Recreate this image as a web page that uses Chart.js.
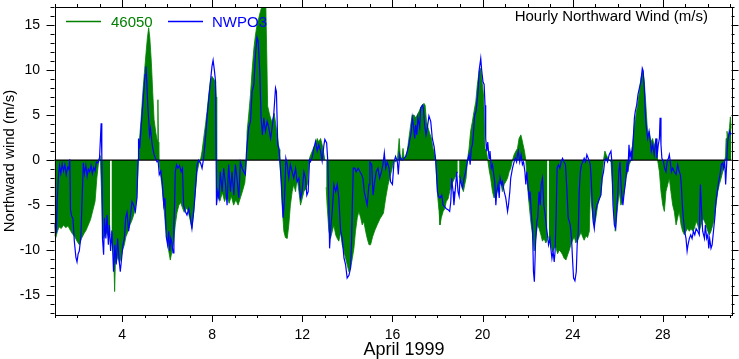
<!DOCTYPE html>
<html>
<head>
<meta charset="utf-8">
<script src="https://cdn.jsdelivr.net/npm/chart.js@4/dist/chart.umd.min.js"></script>
<style>
  html, body { margin: 0; padding: 0; background: #fff; }
  #wrap { position: relative; width: 739px; height: 359px; }
</style>
</head>
<body>
<div id="wrap"><canvas id="windChart"></canvas></div>
<script>
// day of April 1999 (fractional), northward wind m/s
const buoy46050 = [
  [1.0,-8.3],[1.06,-8.6],[1.12,-8.0],[1.2,-7.4],[1.3,-7.6],[1.4,-7.2],[1.5,-7.5],[1.6,-7.3],[1.7,-7.8],[1.8,-8.2],[1.9,-8.5],
  [2.0,-9.0],[2.1,-9.4],[2.2,-8.7],[2.3,-8.2],[2.4,-7.8],[2.5,-7.2],[2.6,-6.6],[2.7,-5.6],[2.8,-4.6],[2.88,-2.0],[2.95,-0.4],
  [3.03,0.5],[3.08,-3.0],[3.13,-7.0],[3.18,-8.7],[3.25,-8.3],[3.33,-8.0],[3.4,-8.6],[3.47,-8.2],[3.5,null],[3.53,-7.8],[3.58,-9.0],
  [3.63,-11.0],[3.67,-14.6],[3.7,-11.5],[3.76,-11.2],[3.82,-10.6],[3.88,-11.4],[3.95,-10.9],
  [4.02,-10.0],[4.1,-9.4],[4.17,-8.5],[4.25,-8.0],[4.35,-7.2],[4.45,-6.6],[4.55,-5.8],[4.65,-4.2],[4.72,0],[4.78,2.5],[4.85,4.8],[4.92,7.5],
  [5.0,10.0],[5.06,11.8],[5.12,13.5],[5.18,14.7],[5.23,13.6],[5.3,10.8],[5.36,7.5],[5.42,4.5],[5.5,3.0],[5.56,2.2],[5.59,6.7],[5.61,2.0],
  [5.63,0],[5.7,-1.5],[5.77,-2.8],[5.85,-5.0],[5.92,-7.2],
  [6.0,-8.8],[6.07,-10.1],[6.14,-11.1],[6.22,-10.0],[6.29,-9.0],[6.36,-7.2],[6.44,-5.8],[6.52,-5.0],[6.6,-4.7],[6.68,-5.3],[6.76,-5.8],[6.84,-5.3],[6.92,-5.6],
  [7.0,-6.4],[7.1,-7.6],[7.18,-5.7],[7.25,-3.5],[7.33,-1.3],[7.42,-0.3],[7.48,0],[7.55,1.0],[7.62,2.4],[7.7,3.9],[7.77,5.4],[7.85,7.3],[7.92,8.7],[7.99,9.3],
  [8.07,9.0],[8.14,8.7],[8.18,7.0],[8.2,-3.5],[8.27,-4.2],[8.35,-4.5],[8.45,-3.6],[8.55,-4.6],[8.65,-3.8],[8.75,-4.8],[8.85,-4.0],[8.95,-5.0],
  [9.05,-4.4],[9.15,-5.0],[9.25,-4.2],[9.35,-3.4],[9.45,-2.5],[9.52,0],[9.55,3.2],[9.62,5.0],[9.7,7.3],[9.77,9.9],[9.85,12.4],[9.92,13.9],[9.99,15.0],
  [10.07,15.8],[10.14,16.5],[10.22,17.2],[10.3,17.5],[10.38,17.2],[10.42,12.0],[10.46,6.0],[10.55,5.0],[10.65,4.2],[10.75,5.2],[10.82,4.0],[10.9,2.5],[10.97,1.2],
  [11.0,0],[11.06,-2.7],[11.12,-5.7],[11.18,-7.9],[11.25,-8.6],[11.33,-8.7],[11.4,-7.2],[11.47,-5.0],[11.55,-3.5],[11.62,-2.7],[11.7,-3.5],[11.77,-2.0],[11.85,-3.5],[11.92,-5.0],
  [12.0,-4.2],[12.07,-3.5],[12.15,-3.2],[12.22,-2.7],[12.29,-0.5],[12.33,0.3],[12.44,1.0],[12.52,1.5],[12.59,1.7],[12.66,2.4],[12.73,2.0],[12.81,2.4],[12.88,1.7],[12.96,0.6],
  [13.0,0],[13.03,null],[13.06,-3.0],[13.1,-5.0],[13.18,-7.9],[13.25,-8.7],[13.33,-7.9],[13.4,-7.2],[13.48,-8.3],[13.55,-8.7],[13.62,-9.0],[13.7,-8.0],[13.77,-9.4],[13.85,-10.1],[13.92,-10.9],[13.99,-11.6],
  [14.07,-12.4],[14.14,-12.0],[14.22,-10.9],[14.29,-9.8],[14.36,-7.9],[14.44,-6.4],[14.51,-5.7],[14.59,-6.4],[14.66,-7.2],[14.73,-6.8],[14.81,-7.9],[14.88,-8.7],[14.96,-9.4],
  [15.03,-9.4],[15.12,-8.5],[15.22,-7.8],[15.32,-7.2],[15.45,-6.5],[15.6,-5.9],[15.7,-4.2],[15.8,-2.8],[15.9,-1.8],
  [16.0,-0.8],[16.07,0],[16.14,-0.2],[16.22,0],[16.3,2.4],[16.35,0.3],[16.42,0.2],[16.47,1.3],[16.52,0.1],[16.6,0.5],[16.66,1.0],[16.73,2.4],[16.81,3.9],[16.88,5.0],[16.96,5.0],
  [17.03,4.7],[17.1,5.0],[17.18,5.4],[17.25,5.8],[17.33,6.1],[17.4,6.3],[17.45,6.1],[17.51,4.3],[17.58,3.6],[17.65,3.0],[17.73,2.4],[17.8,1.3],[17.88,0.6],[17.92,0],
  [18.0,-3.8],[18.07,-5.7],[18.11,-7.2],[18.17,-6.4],[18.25,-5.7],[18.32,-5.4],[18.39,-4.6],[18.47,-4.3],[18.54,-3.5],[18.62,-2.7],[18.69,-2.4],[18.76,-2.0],[18.84,-1.6],[18.9,-1.3],[18.93,null],[18.96,-1.8],
  [19.0,-2.0],[19.08,-2.7],[19.15,-3.5],[19.21,-2.7],[19.27,-2.0],[19.33,0],[19.4,1.3],[19.47,3.2],[19.55,4.3],[19.62,5.4],[19.7,6.5],[19.77,8.4],[19.85,9.9],[19.92,10.2],[19.99,8.5],
  [20.05,7.0],[20.11,1.3],[20.17,1.0],[20.23,0],[20.3,-1.2],[20.36,-2.0],[20.44,-3.5],[20.51,-4.2],[20.59,-3.9],[20.66,-3.5],[20.74,-2.7],[20.81,-2.4],[20.88,-3.5],[20.96,-2.7],
  [21.03,-2.4],[21.11,-2.0],[21.18,-1.3],[21.25,-0.9],[21.33,0],[21.4,0.6],[21.48,1.0],[21.55,1.3],[21.62,2.4],[21.7,2.8],[21.74,2.4],[21.8,1.7],[21.86,1.0],[21.92,0],[21.99,-2.7],
  [22.07,-5.0],[22.14,-6.8],[22.22,-8.3],[22.29,-10.1],[22.36,-8.7],[22.44,-7.2],[22.51,-7.6],[22.59,-8.3],[22.66,-9.0],[22.73,-8.7],[22.81,-9.2],[22.88,-8.8],[22.91,null],[22.94,-8.5],
  [23.03,-9.4],[23.11,-10.2],[23.18,-9.8],[23.25,-9.6],[23.33,-10.4],[23.4,-10.0],[23.48,-10.2],[23.55,-10.5],[23.62,-10.9],[23.7,-11.1],[23.78,-10.5],[23.85,-10.0],[23.92,-9.4],
  [24.0,-8.9],[24.07,-8.5],[24.14,-9.2],[24.22,-8.9],[24.29,-8.5],[24.37,-8.0],[24.44,-8.5],[24.51,-8.9],[24.59,-8.4],[24.66,-8.6],[24.74,-7.9],[24.79,-3.0],[24.84,-5.0],[24.9,-6.4],[24.96,-7.2],
  [25.03,-6.4],[25.11,-5.0],[25.18,-4.3],[25.25,-3.9],[25.33,-1.3],[25.37,0],[25.43,1.0],[25.49,0.6],[25.55,0.3],[25.62,0],[25.7,-0.2],[25.77,-2.7],[25.85,-6.4],[25.89,-7.9],[25.95,-6.4],
  [26.0,-5.0],[26.07,-3.5],[26.14,-5.0],[26.21,-4.6],[26.29,-3.5],[26.36,-2.0],[26.44,-1.3],[26.51,-0.5],[26.59,0],[26.66,1.7],[26.74,3.9],[26.81,5.0],[26.88,6.1],[26.96,7.6],
  [27.03,9.1],[27.11,9.9],[27.18,8.7],[27.25,6.1],[27.3,4.0],[27.35,2.5],[27.4,3.2],[27.47,2.0],[27.55,2.4],[27.62,1.5],[27.7,2.4],[27.77,0],[27.85,-1.3],[27.92,-3.5],
  [28.0,-5.0],[28.07,-5.7],[28.14,-3.5],[28.22,-2.7],[28.29,-2.0],[28.36,-3.5],[28.44,-5.0],[28.51,-5.7],[28.59,-7.2],[28.66,-6.4],[28.73,-5.7],[28.81,-7.2],[28.88,-7.9],[28.96,-8.3],
  [29.03,-7.9],[29.1,-7.6],[29.18,-7.9],[29.25,-7.6],[29.33,-7.9],[29.4,-7.6],[29.48,-6.8],[29.55,-7.2],[29.62,-7.9],[29.7,-7.2],[29.77,-6.4],[29.85,-6.8],[29.92,-7.2],
  [30.0,-7.9],[30.07,-8.3],[30.14,-7.9],[30.22,-7.2],[30.29,-6.4],[30.36,-5.0],[30.44,-3.5],[30.51,-2.7],[30.59,-2.0],[30.66,-1.3],[30.74,-0.2],[30.78,0],[30.81,2.4],[30.85,3.2],[30.9,2.4],[30.96,3.6],
  [31.0,4.8],[31.05,3.5]
];

const nwpo3 = [
  [1.0,-7.0],[1.04,-8.2],[1.08,-8.0],[1.12,-4.5],[1.17,-2.0],[1.22,-0.6],[1.28,-1.5],[1.34,-0.4],[1.4,-1.2],[1.46,-0.5],[1.52,-1.6],[1.58,-0.8],[1.63,-1.0],[1.68,0.1],
  [1.71,-5.5],[1.76,-6.2],[1.82,-6.5],[1.88,-9.0],[1.95,-10.8],[2.0,-11.3],[2.05,-10.4],[2.1,-10.1],[2.17,-8.5],[2.23,-4.0],[2.28,-0.3],[2.33,-1.5],[2.39,-0.6],[2.45,-1.8],
  [2.5,-1.0],[2.56,-1.3],[2.62,-0.6],[2.68,-1.5],[2.74,-0.8],[2.8,-1.2],[2.86,-0.2],[2.93,-0.3],[3.0,0.3],[3.07,4.1],[3.1,0.5],[3.13,-8.7],[3.18,-10.5],[3.22,-6.4],
  [3.28,-8.7],[3.33,-6.1],[3.39,-9.4],[3.44,-7.2],[3.49,-10.1],[3.55,-7.9],[3.62,-12.4],[3.68,-9.4],[3.74,-11.6],[3.8,-8.7],[3.86,-10.9],[3.92,-12.4],[3.98,-10.9],
  [4.04,-9.4],[4.1,-8.7],[4.16,-6.4],[4.22,-5.8],[4.29,-7.9],[4.36,-6.4],[4.44,-4.6],[4.51,-5.0],[4.59,-5.7],[4.66,-4.2],[4.71,0],[4.73,2.4],[4.78,1.3],[4.84,3.5],
  [4.9,5.5],[4.96,7.5],[5.02,9.5],[5.06,10.4],[5.1,8.5],[5.14,6.1],[5.18,4.5],[5.22,2.8],[5.26,3.5],[5.3,2.5],[5.35,1.5],[5.42,0.6],[5.48,0.2],[5.55,-0.2],[5.6,-0.1],
  [5.65,-1.6],[5.72,-1.2],[5.78,-2.5],[5.85,-5.0],[5.9,-4.2],[5.96,-8.5],[6.02,-9.4],[6.07,-7.9],[6.11,-10.1],[6.16,-8.7],[6.21,-9.2],[6.26,-10.3],[6.3,-7.0],[6.33,-5.0],
  [6.36,-1.3],[6.42,-0.5],[6.48,-0.9],[6.55,-0.6],[6.62,-1.3],[6.68,-0.9],[6.73,-5.0],[6.81,-5.7],[6.88,-6.1],[6.96,-5.4],[7.03,-6.4],[7.1,-7.6],[7.18,-5.7],[7.25,-3.5],
  [7.33,-0.5],[7.4,0],[7.48,-0.3],[7.55,-0.9],[7.62,0.2],[7.7,2.4],[7.77,4.7],[7.85,6.9],[7.92,8.7],[7.99,10.4],[8.04,11.1],[8.1,9.9],[8.15,8.7],[8.19,-5.0],[8.25,-3.5],
  [8.3,-4.2],[8.36,-1.3],[8.44,-3.5],[8.51,-0.9],[8.59,-2.7],[8.66,-5.0],[8.73,-0.5],[8.81,-3.5],[8.88,-1.3],[8.96,-3.9],[9.03,-0.5],[9.1,-2.0],[9.18,-4.2],[9.25,-0.2],
  [9.33,-0.9],[9.4,-1.3],[9.47,-1.6],[9.52,0.8],[9.55,1.7],[9.62,3.6],[9.7,4.3],[9.77,7.6],[9.85,8.4],[9.92,11.7],[9.99,13.6],[10.04,13.2],[10.11,9.9],[10.17,4.7],
  [10.23,2.8],[10.29,4.7],[10.36,3.2],[10.44,4.3],[10.51,3.6],[10.59,2.4],[10.66,3.6],[10.73,5.0],[10.81,8.0],[10.85,7.6],[10.91,1.7],[10.96,1.3],[11.0,0],[11.06,-2.0],
  [11.12,-5.0],[11.15,-6.4],[11.21,-4.2],[11.27,0.2],[11.33,-0.5],[11.4,-2.0],[11.47,-0.5],[11.55,-1.3],[11.62,-2.0],[11.7,-0.9],[11.77,-2.4],[11.85,-2.0],[11.92,-4.2],
  [11.99,-3.5],[12.07,-1.3],[12.14,-2.0],[12.2,-3.9],[12.26,-3.5],[12.32,0],[12.36,-0.2],[12.44,0.3],[12.51,1.3],[12.59,2.1],[12.66,1.0],[12.73,1.7],[12.81,1.0],[12.88,-0.1],
  [12.96,1.7],[13.0,2.3],[13.08,1.9],[13.13,-0.1],[13.18,-5.0],[13.21,-9.8],[13.27,-7.2],[13.33,-5.7],[13.4,-2.7],[13.48,-3.5],[13.55,-2.7],[13.62,-4.2],[13.7,-7.9],
  [13.77,-8.7],[13.85,-10.9],[13.92,-11.6],[13.99,-13.1],[14.07,-12.8],[14.14,-12.0],[14.19,-8.7],[14.22,-5.0],[14.26,-0.9],[14.33,-0.9],[14.39,-1.3],[14.48,-0.9],
  [14.56,-1.3],[14.63,-1.6],[14.69,-2.0],[14.75,-3.5],[14.81,-4.2],[14.88,-5.0],[14.96,-2.7],[15.0,-0.2],[15.08,-0.5],[15.14,-3.9],[15.21,-2.4],[15.28,-1.3],[15.36,-0.9],
  [15.43,-2.0],[15.51,-1.3],[15.58,-0.5],[15.64,0.8],[15.7,-0.9],[15.77,-0.2],[15.85,-0.9],[15.92,-2.4],[16.0,-2.7],[16.07,-0.2],[16.14,0.4],[16.22,-0.2],[16.26,-1.6],
  [16.32,0.6],[16.36,0.2],[16.44,0],[16.51,0.2],[16.59,0.4],[16.66,1.0],[16.73,1.7],[16.78,2.4],[16.84,3.2],[16.88,4.7],[16.93,3.9],[16.99,2.4],[17.03,3.9],[17.08,2.8],
  [17.13,4.7],[17.21,3.6],[17.25,5.8],[17.33,6.1],[17.37,5.8],[17.43,3.9],[17.49,2.8],[17.55,3.6],[17.62,4.9],[17.7,4.3],[17.77,2.4],[17.85,1.5],[17.92,0],[18.0,-3.5],
  [18.04,-4.0],[18.11,-4.2],[18.19,-3.9],[18.25,-5.0],[18.32,-5.2],[18.39,-5.4],[18.47,-5.5],[18.54,-5.7],[18.59,-4.6],[18.63,-2.0],[18.69,-3.5],[18.73,-5.0],[18.81,-2.7],
  [18.85,-1.3],[18.91,-3.5],[18.96,-4.0],[19.0,-2.0],[19.06,-2.7],[19.1,-3.1],[19.18,-2.0],[19.25,-1.3],[19.33,-0.1],[19.4,0.6],[19.45,-0.5],[19.5,1.3],[19.55,1.7],
  [19.59,2.8],[19.65,5.0],[19.71,5.4],[19.8,7.6],[19.85,10.0],[19.92,11.3],[19.96,10.0],[20.02,8.7],[20.07,8.4],[20.11,6.1],[20.14,2.4],[20.19,1.0],[20.23,2.0],[20.29,0.2],
  [20.33,1.0],[20.39,-0.9],[20.44,-0.5],[20.48,-1.3],[20.54,-2.4],[20.59,-5.0],[20.63,-3.5],[20.69,-2.7],[20.74,-4.2],[20.78,-2.0],[20.84,-2.7],[20.88,-2.4],[20.96,-3.5],
  [21.03,-4.2],[21.11,-5.7],[21.15,-5.0],[21.21,-3.5],[21.25,-2.0],[21.33,-0.9],[21.4,-0.2],[21.45,0.2],[21.51,-0.2],[21.55,0.6],[21.59,1.0],[21.65,-0.2],[21.71,0.6],
  [21.77,-0.5],[21.82,-0.2],[21.88,-1.3],[21.92,-2.7],[21.96,-1.3],[22.01,-2.7],[22.07,-4.2],[22.11,-3.5],[22.16,-5.7],[22.22,-7.9],[22.26,-12.4],[22.3,-13.5],[22.35,-9.4],
  [22.41,-6.8],[22.45,-6.4],[22.51,-3.5],[22.56,-5.0],[22.6,-2.7],[22.66,-2.0],[22.72,-5.0],[22.78,-6.1],[22.84,-7.6],[22.88,-8.3],[22.93,-9.4],[22.99,-8.7],[23.03,-9.8],
  [23.08,-10.9],[23.13,-10.1],[23.18,-11.3],[23.22,-10.1],[23.27,-5.7],[23.31,-0.9],[23.37,-0.5],[23.43,-0.9],[23.49,-0.2],[23.55,0.2],[23.62,-0.2],[23.68,-0.5],
  [23.74,-3.1],[23.8,-6.4],[23.85,-6.8],[23.89,-7.2],[23.95,-8.7],[24.0,-11.3],[24.04,-13.1],[24.1,-13.4],[24.16,-12.4],[24.2,-9.4],[24.25,-7.9],[24.29,-3.5],[24.34,-1.3],
  [24.39,-0.5],[24.45,-0.2],[24.51,0.2],[24.57,-0.2],[24.63,0.6],[24.69,0.2],[24.75,-0.2],[24.78,-0.5],[24.82,-2.0],[24.87,-5.0],[24.91,-6.8],[24.96,-7.6],[25.02,-5.7],
  [25.08,-5.0],[25.14,-4.6],[25.2,-4.2],[25.25,-3.9],[25.31,-2.0],[25.37,-1.3],[25.42,-0.2],[25.48,0.2],[25.55,-0.2],[25.62,0.6],[25.7,1.0],[25.74,-0.2],[25.79,-5.0],
  [25.85,-7.2],[25.91,-7.6],[25.95,-5.7],[26.0,-3.9],[26.05,-1.3],[26.1,-0.2],[26.14,-2.4],[26.19,-4.2],[26.23,-5.0],[26.29,-3.5],[26.35,-2.4],[26.41,-0.5],[26.45,-1.3],
  [26.5,1.7],[26.54,0.2],[26.59,1.0],[26.63,-0.1],[26.69,2.4],[26.74,4.7],[26.78,5.4],[26.84,6.1],[26.9,7.3],[26.96,8.0],[27.03,8.7],[27.09,10.2],[27.13,9.9],[27.18,8.0],
  [27.22,5.4],[27.27,3.6],[27.33,2.4],[27.39,3.2],[27.45,2.0],[27.49,1.0],[27.55,1.7],[27.62,0.6],[27.7,2.4],[27.74,0.2],[27.8,1.7],[27.85,2.4],[27.88,4.7],[27.92,1.7],
  [27.96,0.2],[28.02,-0.1],[28.08,-0.9],[28.14,-1.3],[28.2,-0.1],[28.25,0.2],[28.29,0.6],[28.33,-0.1],[28.38,-1.3],[28.44,-0.9],[28.51,-1.3],[28.59,-1.6],[28.66,-0.5],
  [28.73,-1.3],[28.78,-1.6],[28.82,-2.7],[28.87,-5.0],[28.91,-6.4],[28.97,-7.9],[29.03,-8.7],[29.08,-10.1],[29.12,-9.4],[29.18,-8.7],[29.24,-8.3],[29.3,-8.7],[29.36,-7.9],
  [29.42,-8.3],[29.48,-7.6],[29.55,-7.9],[29.62,-8.3],[29.67,-2.7],[29.71,-5.0],[29.77,-7.9],[29.85,-8.7],[29.89,-7.2],[29.95,-8.7],[30.0,-8.3],[30.04,-9.8],[30.08,-8.7],
  [30.14,-9.8],[30.19,-9.4],[30.25,-7.9],[30.31,-6.4],[30.36,-4.6],[30.42,-3.5],[30.48,-2.4],[30.54,-1.6],[30.6,-0.5],[30.66,-0.3],[30.7,-0.9],[30.75,-0.2],[30.79,-2.7],
  [30.84,-0.2],[30.88,2.0],[30.93,2.8],[30.97,3.2],[31.02,2.8]
];

const dayTicks = [4, 8, 12, 16, 20, 24, 28];
const windTicks = [-15, -10, -5, 0, 5, 10, 15];
const seriesNames = ['46050', 'NWPO3'];
const seriesColors = ['#008000', '#0000ff'];

const FONT = '"Liberation Sans", Arial, Helvetica, sans-serif';

function toPoints(list) {
  return list.map(function (p) { return { x: p[0], y: p[1] }; });
}

// frame, minor/major ticks on all 4 sides, zero line, legend, title texts
const ncarStyle = {
  id: 'ncarStyle',
  afterDatasetDraw(chart, args) {
    if (args.index !== 1) return;
    const a = chart.chartArea, ctx = chart.ctx;
    const y0 = chart.scales.y.getPixelForValue(0);
    ctx.save();
    ctx.strokeStyle = '#000';
    ctx.lineWidth = 1.3;
    ctx.beginPath();
    ctx.moveTo(a.left, y0);
    ctx.lineTo(a.right, y0);
    ctx.stroke();
    ctx.restore();
  },
  afterDraw(chart) {
    const a = chart.chartArea, ctx = chart.ctx;
    const xs = chart.scales.x, ys = chart.scales.y;
    ctx.save();
    ctx.strokeStyle = '#000';
    ctx.lineWidth = 1;
    ctx.strokeRect(Math.round(a.left) + 0.5, Math.round(a.top) + 0.5,
      Math.round(a.right - a.left), Math.round(a.bottom - a.top));

    ctx.beginPath();
    for (let d = 1; d <= 31; d++) {
      const px = Math.round(xs.getPixelForValue(d)) + 0.5;
      const major = d % 4 === 0;
      ctx.moveTo(px, a.bottom);
      ctx.lineTo(px, a.bottom + (major ? 7 : 3));
      ctx.moveTo(px, a.top);
      ctx.lineTo(px, a.top - (major ? 7 : 3));
    }
    for (let v = -17; v <= 17; v++) {
      const py = Math.round(ys.getPixelForValue(v)) + 0.5;
      const major = v % 5 === 0;
      ctx.moveTo(a.left, py);
      ctx.lineTo(a.left - (major ? 8 : 4), py);
      ctx.moveTo(a.right, py);
      ctx.lineTo(a.right + (major ? 7 : 3), py);
    }
    ctx.stroke();

    // legend
    ctx.lineWidth = 1.5;
    ctx.strokeStyle = seriesColors[0];
    ctx.beginPath(); ctx.moveTo(66, 21.5); ctx.lineTo(101, 21.5); ctx.stroke();
    ctx.strokeStyle = seriesColors[1];
    ctx.beginPath(); ctx.moveTo(168, 21.5); ctx.lineTo(203, 21.5); ctx.stroke();
    ctx.font = '15px ' + FONT;
    ctx.textBaseline = 'alphabetic';
    ctx.textAlign = 'left';
    ctx.fillStyle = seriesColors[0];
    ctx.fillText(seriesNames[0], 111, 26.5);
    ctx.fillStyle = seriesColors[1];
    ctx.fillText(seriesNames[1], 212, 26.5);

    // title inside the plot, top right
    ctx.fillStyle = '#000';
    ctx.textAlign = 'right';
    ctx.fillText('Hourly Northward Wind (m/s)', 708, 21);

    // axis titles
    ctx.textAlign = 'center';
    ctx.font = '18px ' + FONT;
    ctx.fillText('April 1999', 404, 355);
    ctx.font = '15px ' + FONT;
    ctx.translate(13.5, (a.top + a.bottom) / 2);
    ctx.rotate(-Math.PI / 2);
    ctx.fillText('Northward wind (m/s)', 0, 0);
    ctx.restore();
  }
};

const ctx = document.getElementById('windChart').getContext('2d');

new Chart(ctx, {
  type: 'line',
  data: {
    datasets: [
      {
        label: seriesNames[1],
        data: toPoints(nwpo3),
        borderColor: seriesColors[1],
        borderWidth: 1.2,
        pointRadius: 0,
        fill: false,
        tension: 0,
        order: 0
      },
      {
        label: seriesNames[0],
        data: toPoints(buoy46050),
        borderColor: seriesColors[0],
        backgroundColor: seriesColors[0],
        borderWidth: 0.8,
        pointRadius: 0,
        fill: 'origin',
        spanGaps: false,
        tension: 0,
        order: 1
      }
    ]
  },
  options: {
    responsive: true,
    maintainAspectRatio: false,
    animation: false,
    devicePixelRatio: 1,
    layout: { padding: { top: 7, right: 7.5, left: 0, bottom: 0 } },
    plugins: {
      legend: { display: false },
      title: { display: false },
      tooltip: { enabled: false }
    },
    scales: {
      x: {
        type: 'linear',
        min: 1,
        max: 31.05,
        grid: { display: false, drawTicks: false },
        border: { display: false },
        afterBuildTicks: function (scale) {
          scale.ticks = dayTicks.map(function (v) { return { value: v }; });
        },
        afterFit: function (scale) {
          scale.height = 44;
          scale.paddingLeft = 0;
          scale.paddingRight = 0;
        },
        ticks: {
          autoSkip: false,
          maxRotation: 0,
          padding: 12,
          color: '#000',
          font: { family: FONT, size: 14 }
        }
      },
      y: {
        min: -17.2,
        max: 17,
        grid: { display: false, drawTicks: false },
        border: { display: false },
        afterBuildTicks: function (scale) {
          scale.ticks = windTicks.map(function (v) { return { value: v }; });
        },
        afterFit: function (scale) {
          scale.width = 54.5;
          scale.paddingTop = 0;
          scale.paddingBottom = 0;
        },
        ticks: {
          padding: 14.5,
          color: '#000',
          font: { family: FONT, size: 14 }
        }
      }
    }
  },
  plugins: [ncarStyle]
});
</script>
</body>
</html>
